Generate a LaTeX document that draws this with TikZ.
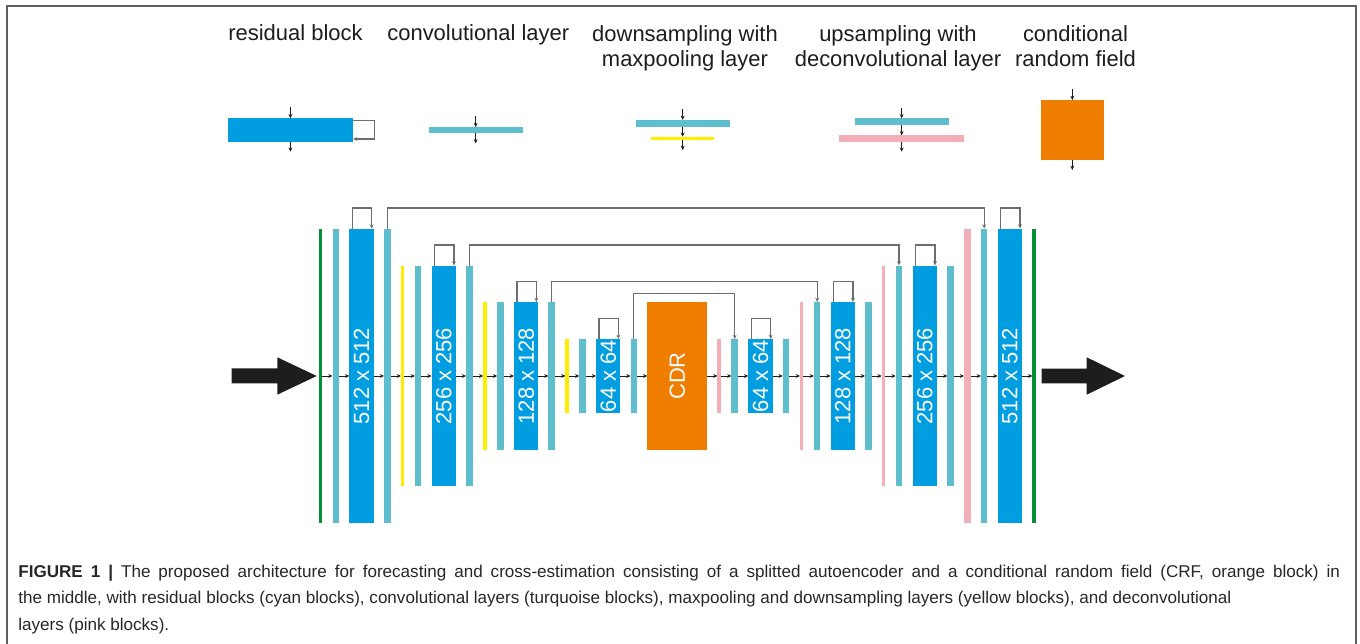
\documentclass[tikz,border=0pt]{standalone}
\usepackage{fontspec}
\setmainfont{Liberation Sans}
\usepackage{graphicx}
\usetikzlibrary{arrows.meta,calc}

\definecolor{resblue}{RGB}{0,158,224}
\definecolor{convturq}{RGB}{94,190,206}
\definecolor{poolyellow}{RGB}{255,237,0}
\definecolor{deconvpink}{RGB}{243,175,181}
\definecolor{crforange}{RGB}{239,125,0}
\definecolor{edgegreen}{RGB}{0,144,54}
\definecolor{inkdark}{RGB}{29,29,27}
\definecolor{linkgray}{RGB}{110,110,110}
\definecolor{framegray}{RGB}{95,95,95}
\definecolor{captext}{RGB}{40,38,38}

\newcommand\legendfont{\fontsize{12.5}{14.5}\selectfont}
\newcommand\blockfont{\fontsize{12.5}{14.5}\selectfont}
\newcommand\figcapfont{\fontsize{9.72}{15.2}\selectfont}

\begin{document}
\begin{tikzpicture}[x=0.02cm, y=-0.02cm,
  bar/.style={rectangle, inner sep=0pt, outer sep=0pt, draw=none},
  convbar/.style={bar, fill=convturq, minimum width=0.13cm},
  poolbar/.style={bar, fill=poolyellow, minimum width=0.07cm},
  deconvbar/.style={bar, fill=deconvpink, minimum width=0.07cm},
  edgebar/.style={bar, fill=edgegreen, minimum width=0.072cm},
  resblk/.style={bar, fill=resblue, minimum width=0.488cm, text=white, font=\blockfont},
  crfblk/.style={bar, fill=crforange, minimum width=1.2cm, text=white, font=\blockfont},
  h512/.style={minimum height=5.9cm},
  h256/.style={minimum height=4.42cm},
  h128/.style={minimum height=2.96cm},
  h64/.style={minimum height=1.48cm},
  flow/.style={inkdark, line width=0.45pt, -{Stealth[length=2.4pt,width=2.2pt]}},
  loopline/.style={linkgray, line width=0.6pt, -{Stealth[length=2.4pt,width=2.2pt]}},
  title/.style={font=\legendfont, text=inkdark, align=center, inner sep=0pt, anchor=base},
  bigarrow/.style={fill=inkdark}]
\useasboundingbox (0,0) rectangle (1360,644);
\draw[framegray, line width=1.1pt] (7.3,644) -- (7.3,6) -- (1356,6) -- (1356,644);

% legend (base = last line)
\node[title] (tres) at (295.5,41) {residual block};
\node[title] (tconv) at (478.3,41) {convolutional layer};
\node[title] (tdown) at (685,66.7) {downsampling with\\maxpooling layer};
\node[title] (tup) at (898,66.7) {upsampling with\\deconvolutional layer};
\node[title] (tcrf) at (1075.5,66.7) {conditional\\random field};

\node[bar, fill=resblue, minimum width=2.506cm, minimum height=0.48cm] (lres) at (290.4,130.3) {};
\node[bar, fill=convturq, minimum width=1.88cm, minimum height=0.126cm] (lconv) at (475.7,130.2) {};
\node[bar, fill=convturq, minimum width=1.88cm, minimum height=0.134cm] (ldconv) at (682.7,123.3) {};
\node[bar, fill=poolyellow, minimum width=1.266cm, minimum height=0.072cm] (ldpool) at (682.7,138.5) {};
\node[bar, fill=convturq, minimum width=1.886cm, minimum height=0.134cm] (luconv) at (901.7,121.7) {};
\node[bar, fill=deconvpink, minimum width=2.508cm, minimum height=0.128cm] (ludeconv) at (901.7,138.5) {};
\node[bar, fill=crforange, minimum width=1.252cm, minimum height=1.2cm] (lcrf) at (1072.3,130) {};

\coordinate (lresin) at (290.4,107.3);   \coordinate (lresout) at (290.4,151.7);
\coordinate (lconvin) at (475.7,116);    \coordinate (lconvout) at (475.7,143.3);
\coordinate (ldownin) at (682.7,109);    \coordinate (ldownout) at (682.7,150);
\coordinate (lupin) at (901.7,107.7);    \coordinate (lupout) at (901.7,151.7);
\coordinate (lcrfin) at (1072.3,89.3);   \coordinate (lcrfout) at (1072.3,170);

\draw[flow] (lresin) -- (lres);   \draw[flow] (lres) -- (lresout);
\draw[loopline] ($(lres.north east)+(0,2.4)$) -- ++(21.3,0) |- ($(lres.south east)+(0,-3.3)$);
\draw[flow] (lconvin) -- (lconv); \draw[flow] (lconv) -- (lconvout);
\draw[flow] (ldownin) -- (ldconv); \draw[flow] (ldconv) -- (ldpool); \draw[flow] (ldpool) -- (ldownout);
\draw[flow] (lupin) -- (luconv); \draw[flow] (luconv) -- (ludeconv); \draw[flow] (ludeconv) -- (lupout);
\draw[flow] (lcrfin) -- (lcrf);  \draw[flow] (lcrf) -- (lcrfout);

% encoder
\node[edgebar, h512] (gin) at (320.5,376) {};
\node[convbar, h512] (c1a) at (335.8,376) {};
\node[resblk, h512] (r512a) at (361.5,376) {\rotatebox{90}{512 x 512}};
\node[convbar, h512] (c1b) at (387.3,376) {};
\node[poolbar, h256] (p1) at (402.7,376) {};
\node[convbar, h256] (c2a) at (418.2,376) {};
\node[resblk, h256] (r256a) at (443.8,376) {\rotatebox{90}{256 x 256}};
\node[convbar, h256] (c2b) at (469.3,376) {};
\node[poolbar, h128] (p2) at (485,376) {};
\node[convbar, h128] (c3a) at (500.5,376) {};
\node[resblk, h128] (r128a) at (526.2,376) {\rotatebox{90}{128 x 128}};
\node[convbar, h128] (c3b) at (551.7,376) {};
\node[poolbar, h64] (p3) at (567.2,376) {};
\node[convbar, h64] (c4a) at (582.5,376) {};
\node[resblk, h64] (r64a) at (608.2,376) {\rotatebox{90}{64 x 64}};
\node[convbar, h64] (c4b) at (633.8,376) {};
% middle
\node[crfblk, h128] (crf) at (677.3,376) {\rotatebox{90}{CDR}};
% decoder
\node[deconvbar, h64] (u4) at (719.2,376) {};
\node[convbar, h64] (c4c) at (734.7,376) {};
\node[resblk, h64] (r64b) at (760.5,376) {\rotatebox{90}{64 x 64}};
\node[convbar, h64] (c4d) at (786,376) {};
\node[deconvbar, h128] (u3) at (801.7,376) {};
\node[convbar, h128] (c3c) at (817.2,376) {};
\node[resblk, h128] (r128b) at (842.8,376) {\rotatebox{90}{128 x 128}};
\node[convbar, h128] (c3d) at (868.3,376) {};
\node[deconvbar, h256] (u2) at (883.5,376) {};
\node[convbar, h256] (c2c) at (899,376) {};
\node[resblk, h256] (r256b) at (924.8,376) {\rotatebox{90}{256 x 256}};
\node[convbar, h256] (c2d) at (950.7,376) {};
\node[deconvbar, h512, minimum width=0.134cm] (u1) at (967.3,376) {};
\node[convbar, h512] (c1c) at (984.2,376) {};
\node[resblk, h512] (r512b) at (1009.8,376) {\rotatebox{90}{512 x 512}};
\node[edgebar, h512] (gout) at (1034.2,376) {};

% data flow
\foreach \a/\b in {gin/c1a, c1a/r512a, r512a/c1b, c1b/p1, p1/c2a, c2a/r256a, r256a/c2b,
  c2b/p2, p2/c3a, c3a/r128a, r128a/c3b, c3b/p3, p3/c4a, c4a/r64a, r64a/c4b, c4b/crf,
  crf/u4, u4/c4c, c4c/r64b, r64b/c4d, c4d/u3, u3/c3c, c3c/r128b, r128b/c3d, c3d/u2,
  u2/c2c, c2c/r256b, r256b/c2d, c2d/u1, u1/c1c, c1c/r512b, r512b/gout}
  \draw[flow] (\a) -- (\b);

% residual loops
\foreach \b in {r512a,r256a,r128a,r64a,r64b,r128b,r256b,r512b}
  \draw[loopline] ($(\b.north)+(-9.2,0)$) -- ++(0,-20.5) -| ($(\b.north)+(10.2,0)$);

% skip connections
\foreach \a/\b/\h in {c1b/c1c/20.5, c2b/c2c/20.5, c3b/c3c/20.5, c4b/c4c/45.7}
  \draw[loopline] (\a.north) -- ++(0,-\h) -| (\b.north);

% input / output
\fill[bigarrow] (231.7,368.5) -- (277.3,368.5) -- (277.3,357.3) -- (316.7,376)
  -- (277.3,394.7) -- (277.3,383.5) -- (231.7,383.5) -- cycle;
\fill[bigarrow] (1041.7,368.7) -- (1086.7,368.7) -- (1086.7,357.3) -- (1125,376)
  -- (1086.7,394.7) -- (1086.7,383.3) -- (1041.7,383.3) -- cycle;

% caption (base = last line)
\node[anchor=base west, align=left, inner sep=0pt, font=\figcapfont, text=captext] (cap) at (18,630.6)
  {\makebox[26.44cm][s]{\textbf{FIGURE 1 |} The proposed architecture for forecasting and cross-estimation consisting of a splitted autoencoder and a conditional random field (CRF, orange block) in}\\
   the middle, with residual blocks (cyan blocks), convolutional layers (turquoise blocks), maxpooling and downsampling layers (yellow blocks), and deconvolutional\\
   layers (pink blocks).};
\end{tikzpicture}
\end{document}
